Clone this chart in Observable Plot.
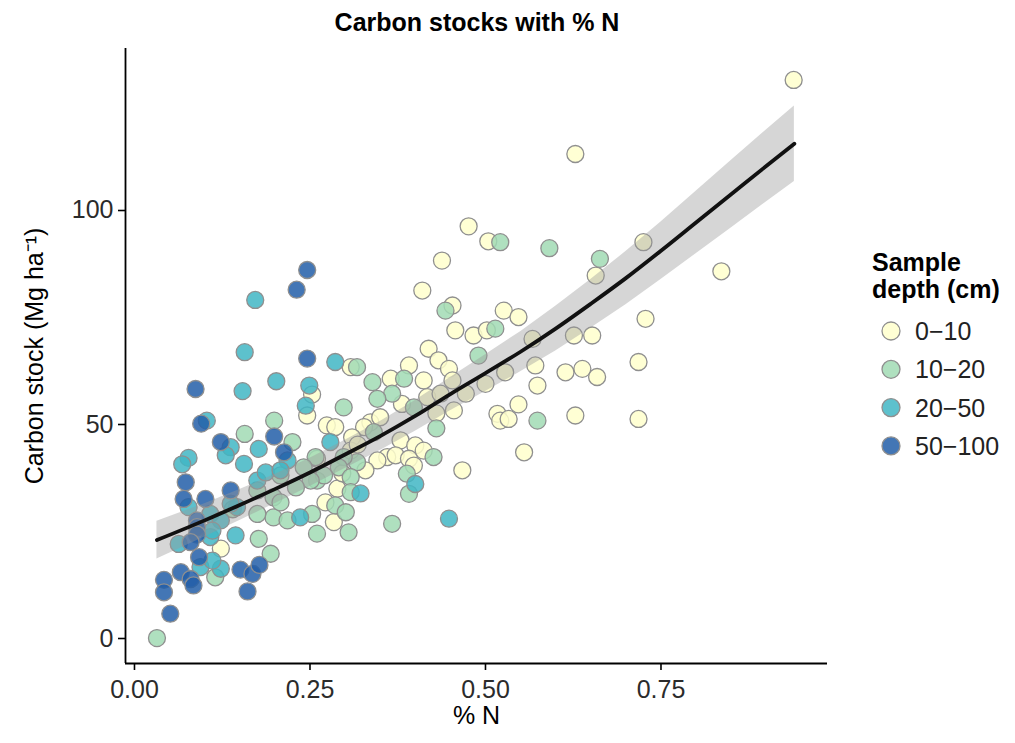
<!DOCTYPE html>
<html><head><meta charset="utf-8">
<script src="https://cdn.jsdelivr.net/npm/d3@7"></script>
<script src="https://cdn.jsdelivr.net/npm/@observablehq/plot@0.6"></script>
<style>
body{margin:0;background:#fff;font-family:"Liberation Sans",Arial,sans-serif;}
#wrap{position:relative;width:1015px;height:743px;overflow:hidden;}
#title{position:absolute;left:0;top:0;width:954px;text-align:center;font-weight:bold;font-size:25px;line-height:44px;color:#000;}
#chart{position:absolute;left:0;top:40px;}
#legend{position:absolute;left:0;top:0;}
.lt{position:absolute;left:872px;font-weight:bold;font-size:25px;line-height:27px;white-space:nowrap;color:#000;}
.li{position:absolute;left:915px;font-size:25px;line-height:28px;white-space:nowrap;color:#222;}
.lk{position:absolute;left:0;top:0;}
</style></head>
<body>
<div id="wrap">
  <div id="title"></div>
  <div id="chart"></div>
  <div id="legend"></div>
</div>
<script>
// ---- data ----
const titleText = "Carbon stocks with % N";
const xLabel = "% N";
const yLabel = "Carbon stock (Mg ha\u207B\u00B9)";
const legendTitle = ["Sample", "depth (cm)"];
const depthLevels = ["0\u221210", "10\u221220", "20\u221250", "50\u2212100"];
const depthColors = ["#ffffcc", "#a1dab4", "#41b6c4", "#225ea8"];
const xTicks = [0, 0.25, 0.5, 0.75];
const yTicks = [0, 50, 100];
const xDomain = [-0.0128, 0.9872];
const yDomain = [-5.84, 137.85];

// 0-10 cm
const n0_10 = [0.246,0.253,0.308,0.391,0.365,0.412,0.381,0.417,0.274,0.286,0.336,0.350,0.327,0.310,0.379,0.400,0.412,0.360,0.372,0.391,0.346,0.329,0.398,0.308,0.289,0.272,0.284,0.123,0.453,0.457,0.483,0.502,0.419,0.433,0.448,0.453,0.500,0.436,0.455,0.517,0.467,0.438,0.410,0.526,0.547,0.567,0.626,0.652,0.728,0.718,0.718,0.528,0.571,0.614,0.638,0.659,0.574,0.472,0.547,0.521,0.533,0.628,0.555,0.476,0.504,0.657,0.725,0.628,0.836,0.939,0.260,0.430,0.318,0.296];
const c0_10 = [52.1,57.0,63.4,63.8,60.7,60.3,54.8,56.4,49.8,49.4,50.5,51.7,49.4,47.0,46.3,45.1,43.9,42.4,42.8,42.0,41.6,39.3,40.4,43.9,35.0,31.8,27.2,21.0,77.8,72.0,70.8,72.0,67.7,65.0,63.0,60.3,59.5,57.2,53.3,52.5,39.3,88.3,81.3,76.6,75.1,70.0,70.8,70.8,74.7,64.6,51.3,62.2,63.8,62.2,63.0,61.1,59.1,57.2,54.7,50.9,51.3,52.1,43.5,96.3,92.8,84.8,92.6,113.2,85.8,130.5,42.0,52.6,45.3,38.6];
// 10-20 cm
const n10_20 = [0.199,0.157,0.225,0.258,0.208,0.260,0.175,0.198,0.198,0.218,0.253,0.260,0.177,0.194,0.115,0.032,0.208,0.175,0.317,0.298,0.339,0.384,0.367,0.346,0.398,0.341,0.430,0.426,0.388,0.391,0.317,0.298,0.291,0.241,0.270,0.251,0.308,0.308,0.286,0.301,0.305,0.367,0.443,0.514,0.490,0.521,0.591,0.663,0.574,0.230,0.140];
const c10_20 = [50.9,47.8,45.9,42.4,38.1,36.9,34.6,33.0,28.3,27.6,29.1,24.5,23.3,19.8,14.3,0.1,31.8,29.1,63.4,54.0,59.9,60.7,57.2,56.0,54.0,48.2,49.1,42.4,38.5,33.8,41.2,42.4,40.0,40.0,38.1,36.9,37.7,34.2,31.1,29.5,24.8,26.8,76.6,72.4,66.1,92.6,91.2,88.7,50.9,35.3,30.2];
// 20-50 cm
const n20_50 = [0.172,0.157,0.154,0.202,0.249,0.244,0.137,0.177,0.130,0.077,0.068,0.156,0.218,0.175,0.187,0.208,0.077,0.108,0.123,0.146,0.236,0.063,0.108,0.144,0.094,0.123,0.137,0.111,0.111,0.286,0.279,0.322,0.400,0.448,0.103];
const c20_50 = [79.1,66.9,57.8,60.1,59.1,54.4,44.7,44.3,42.8,42.2,40.7,40.8,41.6,36.9,38.8,39.3,30.7,29.1,27.6,30.7,28.3,22.1,23.7,24.1,16.7,16.3,31.5,25.2,18.2,64.6,45.9,33.9,36.1,28.0,50.9];
// 50-100 cm
const n50_100 = [0.246,0.231,0.246,0.087,0.095,0.199,0.123,0.213,0.073,0.137,0.070,0.101,0.089,0.089,0.089,0.080,0.092,0.066,0.080,0.084,0.042,0.042,0.051,0.151,0.168,0.178,0.161];
const c50_100 = [86.1,81.5,65.4,58.3,50.2,47.2,45.9,43.5,36.5,34.6,32.6,32.6,27.6,26.0,24.3,22.5,19.0,15.5,13.9,12.4,13.7,10.8,5.8,16.1,15.1,17.2,11.0];

// fitted curve and its confidence band
const fitN  = [0.032,0.10,0.15,0.20,0.25,0.30,0.35,0.40,0.45,0.50,0.55,0.60,0.65,0.70,0.75,0.80,0.85,0.90,0.94];
const fitC  = [23.0,27.6,31.2,34.9,38.8,43.0,47.3,52.0,57.1,62.0,67.0,72.4,78.2,84.2,90.6,97.2,103.8,110.4,115.6];
const fitLo = [18.6,23.7,27.6,31.5,35.5,39.7,43.9,48.4,53.2,57.7,62.3,67.2,72.5,78.0,83.9,89.9,95.9,102.0,106.8];
const fitHi = [27.4,31.5,34.8,38.3,42.1,46.3,50.7,55.6,61.0,66.3,71.7,77.6,83.9,90.4,97.3,104.5,111.7,118.8,124.4];

// ---- build tables ----
const groups = [[n0_10,c0_10],[n10_20,c10_20],[n20_50,c20_50],[n50_100,c50_100]];
const points = [];
groups.forEach(([ns, cs], gi) => ns.forEach((n, i) => points.push({n, c: cs[i], depth: depthLevels[gi]})));
const fit = fitN.map((n, i) => ({n, c: fitC[i], lo: fitLo[i], hi: fitHi[i]}));

document.getElementById("title").textContent = titleText;

const font = '"Liberation Sans", Arial, sans-serif';
const fs = 25;
const chart = Plot.plot({
  width: 850, height: 703,
  marginLeft: 125, marginRight: 23, marginTop: 8, marginBottom: 80,
  style: {fontFamily: font, fontSize: fs + "px", background: "white", color: "#000", overflow: "visible"},
  x: {domain: xDomain},
  y: {domain: yDomain},
  color: {domain: depthLevels, range: depthColors},
  marks: [
    Plot.dot(points, {x: "n", y: "c", r: 8.5, fill: "depth", fillOpacity: 0.85, stroke: "#8f8f8f", strokeWidth: 1.3}),
    Plot.areaY(fit, {x: "n", y1: "lo", y2: "hi", fill: "#999999", fillOpacity: 0.4}),
    Plot.line(fit, {x: "n", y: "c", stroke: "#111", strokeWidth: 3.8, curve: "monotone-x"}),
    Plot.ruleX([xDomain[0]], {stroke: "#000", strokeWidth: 1.8}),
    Plot.ruleY([yDomain[0]], {stroke: "#000", strokeWidth: 1.8}),
    Plot.axisX({ticks: xTicks, tickFormat: d => d.toFixed(2), tickSize: 7, tickPadding: 10, stroke: "#000", strokeWidth: 1.6, fill: "#2b2b2b", fontSize: fs, label: null}),
    Plot.axisY({ticks: yTicks, tickSize: 7, tickPadding: 5, stroke: "#000", strokeWidth: 1.6, fill: "#2b2b2b", fontSize: fs, label: null}),
    Plot.text([xLabel], {frameAnchor: "bottom", dy: 52, lineAnchor: "middle", fontSize: fs, fill: "#000"}),
    Plot.text([yLabel], {frameAnchor: "left", dx: -91, rotate: -90, lineAnchor: "middle", textAnchor: "middle", fontSize: fs, fill: "#000"})
  ]
});
document.getElementById("chart").appendChild(chart);

// ---- legend (beside the plot) ----
const lg = document.getElementById("legend");
legendTitle.forEach((t, i) => {
  const d = document.createElement("div");
  d.className = "lt";
  d.style.top = (249 + i * 27) + "px";
  d.textContent = t;
  lg.appendChild(d);
});
const ns = "http://www.w3.org/2000/svg";
const keySvg = document.createElementNS(ns, "svg");
keySvg.setAttribute("width", 1015); keySvg.setAttribute("height", 743);
keySvg.setAttribute("class", "lk");
keySvg.style.position = "absolute";
depthLevels.forEach((lab, i) => {
  const cy = 331 + i * 38.3;
  const c = document.createElementNS(ns, "circle");
  c.setAttribute("cx", 891); c.setAttribute("cy", cy); c.setAttribute("r", 9);
  c.setAttribute("fill", depthColors[i]); c.setAttribute("fill-opacity", 0.85);
  c.setAttribute("stroke", "#8f8f8f"); c.setAttribute("stroke-width", 1.3);
  keySvg.appendChild(c);
});
lg.appendChild(keySvg);
depthLevels.forEach((lab, i) => {
  const d = document.createElement("div");
  d.className = "li";
  d.style.top = (331 + i * 38.3 - 14) + "px";
  d.textContent = lab;
  lg.appendChild(d);
});
</script>
</body></html>
